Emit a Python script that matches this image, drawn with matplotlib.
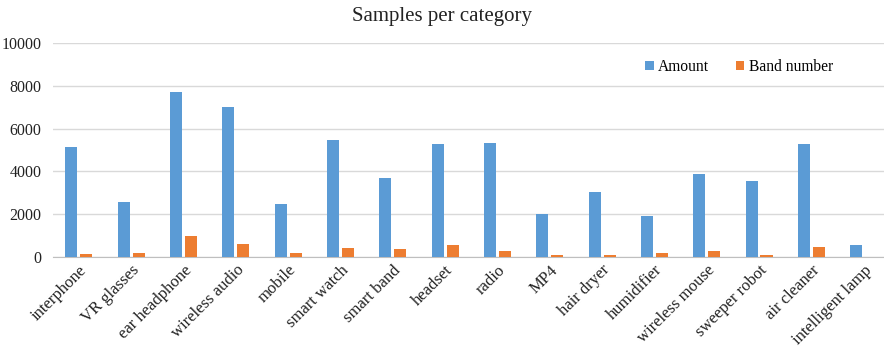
import matplotlib

matplotlib.use("Agg")
import matplotlib.pyplot as plt
import numpy as np

plt.rcParams["font.family"] = ["Liberation Serif", "DejaVu Serif"]

categories = [
    "interphone", "VR glasses", "ear headphone", "wireless audio", "mobile",
    "smart watch", "smart band", "headset", "radio", "MP4", "hair dryer",
    "humidifier", "wireless mouse", "sweeper robot", "air cleaner",
    "intelligent lamp",
]
amount = [5150, 2560, 7700, 7000, 2480, 5460, 3700, 5280, 5340, 2020,
          3060, 1910, 3880, 3570, 5280, 590]
band_number = [150, 180, 980, 600, 180, 430, 370, 560, 280, 90,
               120, 210, 310, 120, 490, 0]

blue = "#5B9BD5"
orange = "#ED7D31"

fig = plt.figure(figsize=(8.84, 3.48), dpi=100)
# axes slightly wider than the canvas so the last group sits near the edge
ax = fig.add_axes([52.8 / 884, 1 - 257.3 / 348, 837 / 884, 214.6 / 348])

x = np.arange(len(categories))
width = 0.23
offset = 0.143
ax.bar(x - offset, amount, width, color=blue, label="Amount", zorder=3)
ax.bar(x + offset, band_number, width, color=orange, label="Band number", zorder=3)

ax.set_xlim(-0.5, len(categories) - 0.5)
ax.set_ylim(0, 10000)
ax.set_yticks(np.arange(0, 10001, 2000))
ax.yaxis.grid(True, color="#d9d9d9", linewidth=1.0, zorder=0)
ax.set_axisbelow(True)

for side in ["top", "right", "left"]:
    ax.spines[side].set_visible(False)
ax.spines["bottom"].set_color("#bfbfbf")
ax.tick_params(axis="both", length=0, labelsize=11.5, colors="#222222")
ax.tick_params(axis="y", pad=8)

ax.set_xticks(x)
ax.set_xticklabels(categories, rotation=45, ha="right", va="top",
                   rotation_mode="anchor", fontsize=12)

ax.legend(loc="center", bbox_to_anchor=(0.82, 0.887), ncol=2, frameon=False,
          fontsize=11.2, handlelength=0.55, handleheight=0.55, columnspacing=1.7,
          handletextpad=0.3)

fig.text(442 / 884, 1 - 17 / 348, "Samples per category", ha="center",
         va="center", fontsize=15, color="#222222")

fig.savefig("out.png", dpi=100)
